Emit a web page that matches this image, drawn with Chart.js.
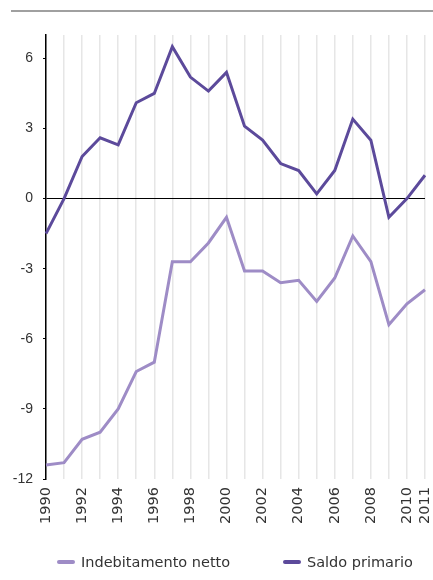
<!DOCTYPE html>
<html>
<head>
<meta charset="utf-8">
<script src="https://cdn.jsdelivr.net/npm/chart.js@4"></script>
<style>
  html, body { margin: 0; padding: 0; background: #fff; }
  #wrap { position: relative; width: 433px; height: 580px; overflow: hidden; }
  #rule { position: absolute; left: 11px; top: 10px; width: 422px; height: 2px; background: #a0a0a0; }
  #chartBox { position: absolute; left: 0; top: 0; width: 433px; height: 580px; }
  .leg { position: absolute; top: 553px; font-family: "DejaVu Sans", sans-serif; font-size: 14.5px; color: #333; white-space: nowrap; line-height: 18px; }
  .leg i { display: inline-block; width: 18px; height: 4px; border-radius: 2px; vertical-align: middle; margin-right: 6px; position: relative; top: -1px; }
</style>
</head>
<body>
<div id="wrap">
  <div id="rule"></div>
  <div id="chartBox"><canvas id="saldoChart"></canvas></div>
  <div id="legend"></div>
</div>
<script>
// anni e serie (% del PIL)
const years = [1990, 1991, 1992, 1993, 1994, 1995, 1996, 1997, 1998, 1999, 2000,
               2001, 2002, 2003, 2004, 2005, 2006, 2007, 2008, 2009, 2010, 2011];
const indebitamentoNetto = [-11.4, -11.3, -10.3, -10.0, -9.0, -7.4, -7.0, -2.7, -2.7, -1.9, -0.8,
                            -3.1, -3.1, -3.6, -3.5, -4.4, -3.4, -1.6, -2.7, -5.4, -4.5, -3.9];
const saldoPrimario = [-1.5, 0.0, 1.8, 2.6, 2.3, 4.1, 4.5, 6.5, 5.2, 4.6, 5.4,
                       3.1, 2.5, 1.5, 1.2, 0.2, 1.2, 3.4, 2.5, -0.8, 0.0, 1.0];
const yTicks = [-12, -9, -6, -3, 0, 3, 6];

const seriesNames = ["Indebitamento netto", "Saldo primario"];
const seriesColors = ["#9e8cc6", "#5c4a9b"];

const ctx = document.getElementById("saldoChart");

const chart = new Chart(ctx, {
    type: "line",
    data: {
        labels: years.map(String),
        datasets: [
            {
                label: seriesNames[0],
                data: indebitamentoNetto,
                borderColor: seriesColors[0],
                backgroundColor: seriesColors[0],
                borderWidth: 3,
                pointRadius: 0,
                tension: 0
            },
            {
                label: seriesNames[1],
                data: saldoPrimario,
                borderColor: seriesColors[1],
                backgroundColor: seriesColors[1],
                borderWidth: 3,
                pointRadius: 0,
                tension: 0
            }
        ]
    },
    options: {
        responsive: true,
        maintainAspectRatio: false,
        animation: false,
        layout: { padding: { top: 35, right: 8, left: 0, bottom: 0 } },
        plugins: {
            legend: { display: false },
            tooltip: { enabled: false }
        },
        scales: {
            x: {
                offset: false,
                grid: {
                    color: "#e6e6e6",
                    lineWidth: 1.5,
                    drawTicks: false
                },
                border: { display: false },
                ticks: {
                    autoSkip: false,
                    maxRotation: 90,
                    minRotation: 90,
                    padding: 8,
                    color: "#333",
                    font: { family: "'DejaVu Sans', sans-serif", size: 14.5 },
                    callback: function (value, index) {
                        const y = years[index];
                        return (y % 2 === 0 || y === 2011) ? String(y) : "";
                    }
                },
                afterFit: function (scale) {
                    scale.height = 101;
                    scale.paddingLeft = 0;
                    scale.paddingRight = 0;
                }
            },
            y: {
                min: -12,
                max: 7,
                afterBuildTicks: function (scale) {
                    scale.ticks = yTicks.map(v => ({ value: v }));
                },
                grid: {
                    color: c => (c.tick && c.tick.value === 0) ? "#000" : "rgba(0,0,0,0)",
                    lineWidth: 1,
                    drawTicks: true,
                    tickLength: 3,
                    tickColor: "#000"
                },
                border: { display: true, color: "#000", width: 1.5 },
                ticks: {
                    padding: 10,
                    color: "#333",
                    font: { family: "'Liberation Sans', Arial, sans-serif", size: 14 }
                },
                afterFit: function (scale) { scale.width = 46; }
            }
        }
    }
});

// legenda sotto il grafico
const legendLeft = [57, 283];
const legendEl = document.getElementById("legend");
chart.data.datasets.forEach((ds, i) => {
    const item = document.createElement("div");
    item.className = "leg";
    item.style.left = legendLeft[i] + "px";
    item.innerHTML = '<i style="background:' + ds.borderColor + '"></i>' + ds.label;
    legendEl.appendChild(item);
});
</script>
</body>
</html>
